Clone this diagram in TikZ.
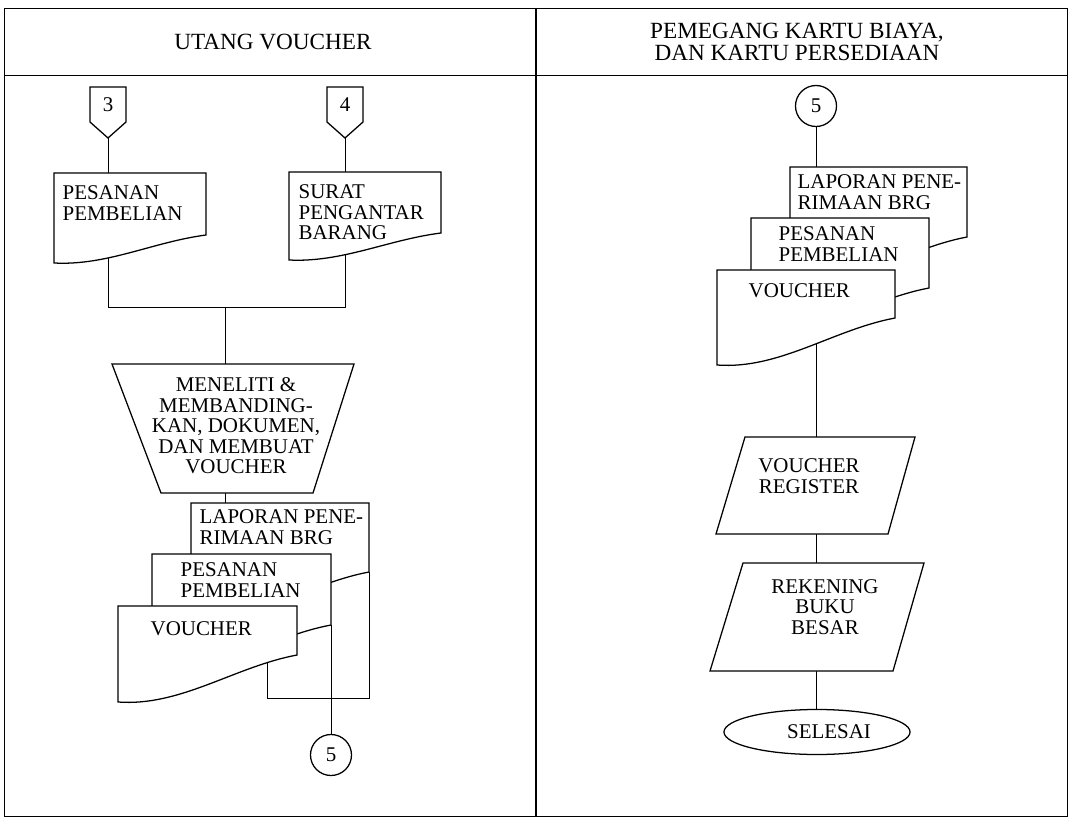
\documentclass[tikz,border=0pt]{standalone}
\usepackage{fontspec}
\setmainfont{Liberation Serif}
\usetikzlibrary{shapes.geometric,backgrounds}

\newcommand{\docpaper}[7]{%
  \draw[paperline] (#2) coordinate (#1-nw) -- ++(#3,0) -- ++(0,#4) coordinate (#1-se)
    .. controls +(-0.35*#3,0.25*#5) and +(0.35*#3,0.1*#5) .. ++(-#3,#5) -- cycle
    (#2) ++(#6) node[papertext] (#1) {#7};}

\begin{document}
\begin{tikzpicture}[x=0.025cm, y=-0.025cm, line width=0.9pt,
  font=\fontsize{14.9}{14.6}\selectfont,
  heading/.style={font=\fontsize{16.5}{15.6}\selectfont, align=center, inner sep=0pt},
  box/.style={draw, fill=white},
  paperline/.style={box},
  papertext/.style={anchor=north west, inner sep=0pt, align=left},
  proctext/.style={align=center, inner sep=0pt},
  onpage/.style={box, circle, inner sep=0pt, minimum size=1.025cm}]
  \useasboundingbox (0,0) rectangle (1072,820);
  \draw[line width=0.7pt] (4,8) rectangle (1067,816) (4,75) -- (1067,75);
  \draw[line width=1.6pt] (536,8) -- (536,816);
  \node[heading] (hdvoucher) at (273,42) {UTANG VOUCHER};
  \node[heading] (hdcard) at (797,41.5) {PEMEGANG KARTU BIAYA,\\DAN KARTU PERSEDIAAN};

  \foreach \x/\n in {108/3, 345/4}
    \draw[box] (\x-18,87) -- (\x+18,87) -- (\x+18,122) -- (\x,138) -- (\x-18,122) -- cycle
      (\x,104.5) node (off\n) {\n};
  \docpaper{pp}{54,173}{152}{62}{28}{8,12}{PESANAN\\PEMBELIAN}
  \docpaper{sj}{289,172}{152}{61}{27}{9,12}{SURAT\\PENGANTAR\\BARANG}
  \draw[box] (112,364) -- (354,364) -- (313,493) -- (161,493) -- cycle;
  \node[proctext] (chk) at (236,426) {MENELITI \&\\MEMBANDING-\\KAN, DOKUMEN,\\DAN MEMBUAT\\VOUCHER};
  \docpaper{lapl}{191,503}{178}{69}{47}{8,6}{LAPORAN PENE-\\RIMAAN BRG}
  \docpaper{pesl}{152,554}{179}{71}{47}{28,8}{PESANAN\\PEMBELIAN}
  \docpaper{voul}{118,606}{179}{49}{47}{32,15}{VOUCHER}
  \node[onpage] (fivel) at (331,755) {5};

  \node[onpage] (fiver) at (816,106) {5};
  \docpaper{lapr}{790,167}{177}{70}{47}{7,7}{LAPORAN PENE-\\RIMAAN BRG}
  \docpaper{pesr}{751,218}{178}{70}{47}{27,8}{PESANAN\\PEMBELIAN}
  \docpaper{vour}{717,270}{178}{48}{47}{31,13}{VOUCHER}
  \draw[box] (745,437) -- (915,437) -- (888,534) -- (716,534) -- cycle;
  \node[proctext] (vreg) at (809,476) {VOUCHER\\REGISTER};
  \draw[box] (743,563) -- (924,563) -- (893,671) -- (710,671) -- cycle;
  \node[proctext] (rek) at (825,607) {REKENING\\BUKU\\BESAR};
  \node[box, ellipse, minimum width=4.65cm, minimum height=1.125cm] (done) at (817,732) {\hspace{0.6cm}SELESAI};

  \begin{scope}[on background layer]
    \coordinate (join) at (225,307);
    \coordinate (ret) at (267,698);
    \draw (off3) |- (join);
    \draw (off4) |- (join);
    \draw (join) -- (join |- chk);
    \draw (join |- chk) -- (join |- lapl);
    \draw (ret |- voul) -- (ret) -| (lapl-se);
    \draw (pesl-se) -- (fivel);
    \draw (fiver) -- (fiver |- lapr);
    \draw (fiver |- vour) -- (fiver |- vreg);
    \draw (fiver |- vreg) -- (fiver |- rek);
    \draw (fiver |- rek) -- (fiver |- done);
  \end{scope}
\end{tikzpicture}
\end{document}
